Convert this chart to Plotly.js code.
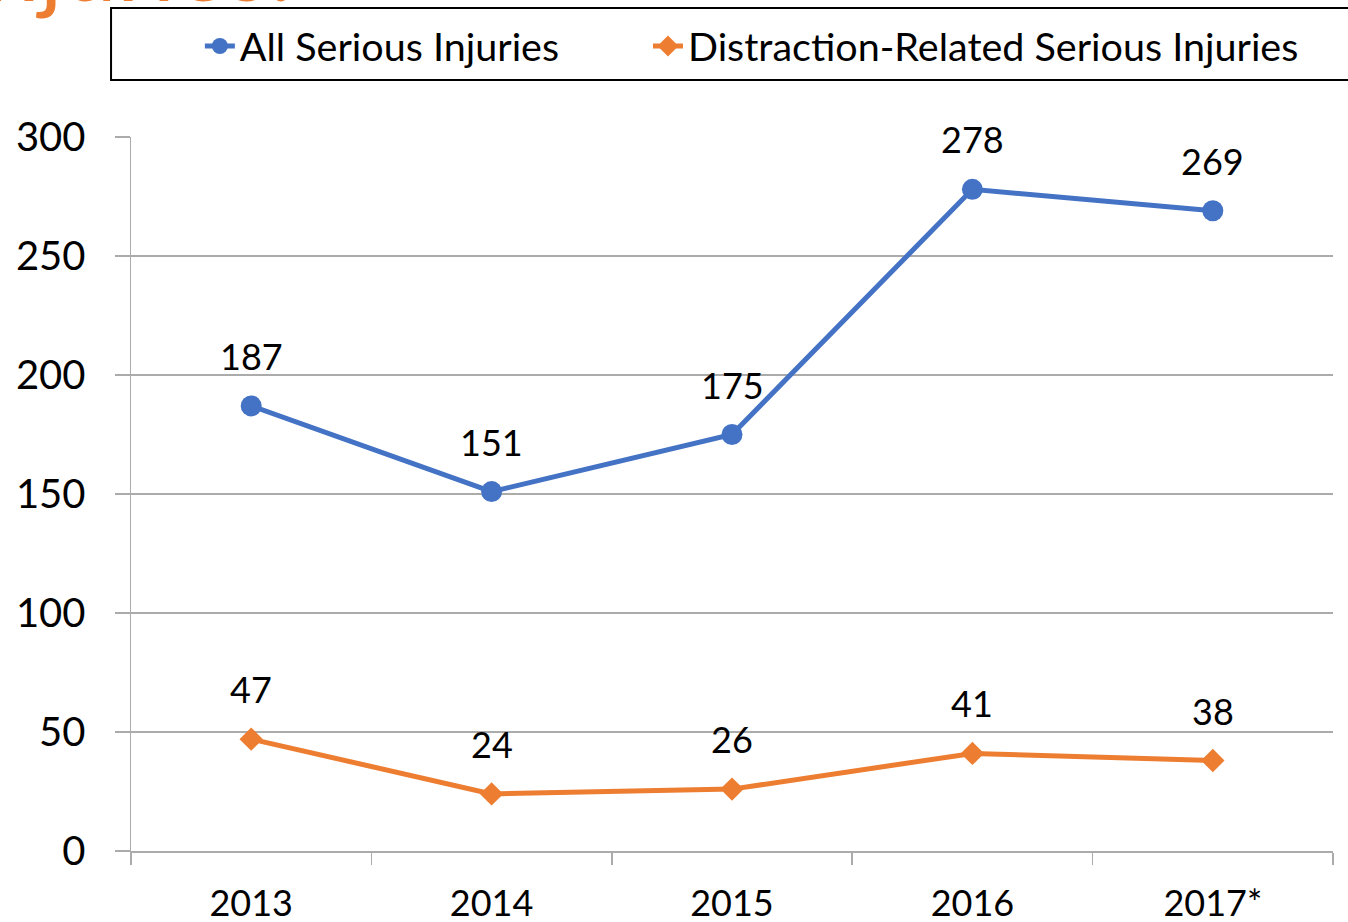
<!DOCTYPE html>
<html>
<head>
<meta charset="utf-8">
<script src="https://cdn.plot.ly/plotly-3.0.1.min.js"></script>
<style>html,body{margin:0;padding:0;background:#fff;}#chart{width:1348px;height:922px;}</style>
</head>
<body>
<div id="chart"></div>
<script>
const years = ["2013", "2014", "2015", "2016", "2017*"];
const allSerious = [187, 151, 175, 278, 269];
const distraction = [47, 24, 26, 41, 38];
const seriesNames = ["All Serious Injuries", "Distraction-Related Serious Injuries"];
const yTicks = [0, 50, 100, 150, 200, 250, 300];

const FONT = "Lato, 'Open Sans', sans-serif";
const BLUE = "#4472C4", ORANGE = "#ED7D31", GRID = "#ababab";

const traces = [
  {x: years, y: allSerious, name: seriesNames[0], type: "scatter", mode: "lines+markers",
   legend: "legend",
   line: {color: BLUE, width: 5}, marker: {symbol: "circle", size: 21, color: BLUE}},
  {x: years, y: distraction, name: seriesNames[1], type: "scatter", mode: "lines+markers",
   legend: "legend2",
   line: {color: ORANGE, width: 5}, marker: {symbol: "diamond", size: 18, color: ORANGE}}
];

const labels = [];
[allSerious, distraction].forEach(vals => {
  vals.forEach((v, i) => labels.push({x: i, y: v, text: String(v), showarrow: false,
    yshift: 50, font: {family: FONT, size: 36, color: "#000"}}));
});
labels.push({xref: "paper", yref: "paper", x: 0.1365, y: 1.1583, xanchor: "right", yanchor: "bottom",
  text: "Injuries:", showarrow: false, font: {family: FONT, size: 97, color: ORANGE}});

const legendFont = {family: FONT, size: 39.5, color: "#000"};
const layout = {
  width: 1348, height: 922,
  margin: {l: 131, r: 15, t: 137, b: 71},
  paper_bgcolor: "#fff", plot_bgcolor: "#fff",
  font: {family: FONT, color: "#000"},
  showlegend: true,
  legend: {orientation: "h", x: 0.0573, xanchor: "left", y: 1.127, yanchor: "middle",
    font: legendFont, bgcolor: "rgba(0,0,0,0)"},
  legend2: {orientation: "h", x: 0.4301, xanchor: "left", y: 1.127, yanchor: "middle",
    font: legendFont, bgcolor: "rgba(0,0,0,0)"},
  xaxis: {type: "category", range: [-0.5, 4.5], showgrid: false, zeroline: false,
    showline: true, linecolor: GRID, linewidth: 1.5, ticks: "outside", tickson: "boundaries",
    ticklen: 12, tickcolor: GRID, tickwidth: 1.5, ticklabelstandoff: 20,
    tickfont: {family: FONT, size: 36, color: "#000"}, fixedrange: true},
  yaxis: {range: [0, 300], tickvals: yTicks, showgrid: true, gridcolor: GRID, gridwidth: 1.2,
    zeroline: false, showline: true, linecolor: GRID, linewidth: 1.5, ticks: "outside",
    ticklen: 15, tickcolor: GRID, tickwidth: 1.5, ticklabelstandoff: 21,
    tickfont: {family: FONT, size: 40, color: "#000"}, fixedrange: true},
  shapes: [{type: "rect", xref: "paper", yref: "paper", x0: -0.0166, x1: 1.03, y0: 1.0798, y1: 1.1807,
    line: {color: "#000", width: 2}, fillcolor: "rgba(0,0,0,0)"}],
  annotations: labels
};

Plotly.newPlot("chart", traces, layout, {displayModeBar: false, staticPlot: true});
</script>
</body>
</html>
